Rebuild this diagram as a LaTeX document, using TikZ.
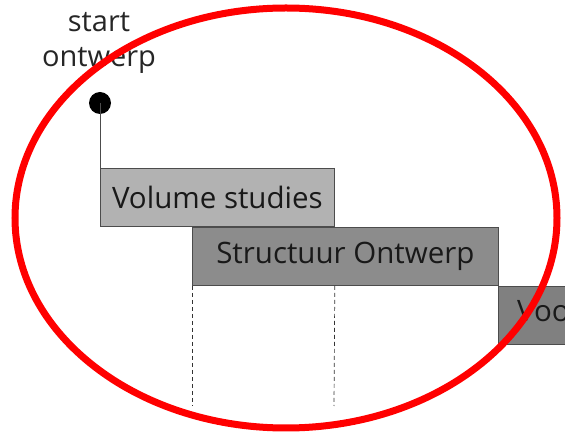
\documentclass[tikz,border=0pt]{standalone}
\usepackage{fontspec}
\setmainfont{Open Sans}
\begin{document}
\begin{tikzpicture}[x=1pt,y=-1pt,
  phase/.style={draw=black!70, line width=0.8pt, minimum height=58pt, inner sep=0pt, font=\fontsize{29.5}{32}\selectfont, text=black!90},
  guide/.style={draw=black!80, dashed, dash pattern=on 4pt off 3pt, line width=0.7pt}]
\useasboundingbox (0,0) rectangle (565,435);
\begin{scope}
\clip (0,0) rectangle (565,435);
\node[phase, fill=black!30, minimum width=234pt, anchor=north west] (vol) at (100,168) {Volume studies};
\node[phase, fill=black!45, minimum width=306pt, anchor=north west] (str) at (192,227) {Structuur Ontwerp};
\node[phase, fill=black!50, minimum width=300pt, anchor=north west] (voo) at (498,286) {};
\node[font=\fontsize{29.5}{32}\selectfont, text=black!90, anchor=west, inner sep=0pt] (voot) at (517,314) {Voorlopig Ontwerp};
\end{scope}
\draw[draw=black!70, line width=0.8pt] (vol.north east) -- (vol.south east);
\node[circle, fill=black, inner sep=0pt, minimum size=22pt] (dot) at (100,103) {};
\draw[black!70, line width=0.8pt] (dot.center) -- (vol.north west);
\node[font=\fontsize{29}{35}\selectfont, align=center, text=black!85] (lbl) at (99,43) {start\\ontwerp};
\coordinate (g1) at (192,406);
\coordinate (g2) at (334,406);
\draw[guide] (str.south west) -- (g1);
\draw[guide] (vol.south east |- str.south) -- (g2);
\draw[red, line width=7pt] (286,218) ellipse [x radius=271pt, y radius=210pt];
\end{tikzpicture}
\end{document}
